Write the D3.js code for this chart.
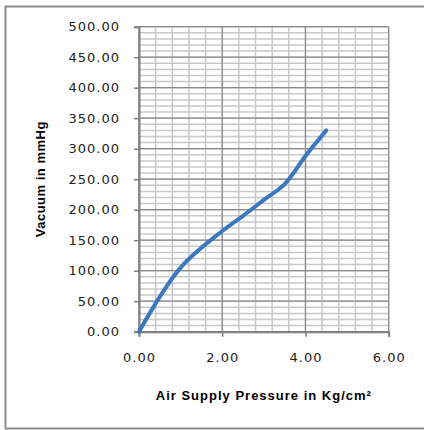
<!DOCTYPE html>
<html>
<head>
<meta charset="utf-8">
<script src="https://cdn.jsdelivr.net/npm/d3@7"></script>
<style>
  body { margin: 0; background: #fff; }
</style>
</head>
<body>
<div id="chart"></div>
<script>
// air supply pressure (kg/cm2) vs vacuum (mmHg)
var pressure = [0, 1.0, 2.0, 2.5, 3.0, 3.5, 4.0, 4.5];
var vacuum = [0, 105, 165, 190, 216, 242, 288, 330];

var xTicks = [0, 2, 4, 6];
var yTicks = [0, 50, 100, 150, 200, 250, 300, 350, 400, 450, 500];

var width = 424, height = 430;

var svg = d3.select("#chart").append("svg")
  .attr("width", width)
  .attr("height", height);

// outer frame (right side runs off the picture)
svg.append("path")
  .attr("d", "M430,6.5 H5.5 V428.5 H430")
  .attr("fill", "none")
  .attr("stroke", "#8c8c8c")
  .attr("stroke-width", 2);

var x = d3.scaleLinear().domain([0, 6]).range([139, 388.7]);
var y = d3.scaleLinear().domain([0, 500]).range([331.7, 26.7]);

// minor grid
var xMinor = d3.range(0, 6.001, 0.4);
var yMinor = d3.range(0, 500.001, 10);

svg.append("g").selectAll("line")
  .data(yMinor)
  .enter().append("line")
  .attr("x1", x(0)).attr("x2", x(6))
  .attr("y1", function(d) { return y(d); })
  .attr("y2", function(d) { return y(d); })
  .attr("stroke", "#c8c8c8")
  .attr("stroke-width", 1.5);

svg.append("g").selectAll("line")
  .data(xMinor)
  .enter().append("line")
  .attr("y1", y(0)).attr("y2", y(500))
  .attr("x1", function(d) { return x(d); })
  .attr("x2", function(d) { return x(d); })
  .attr("stroke", "#c8c8c8")
  .attr("stroke-width", 1.5);

// major grid
svg.append("g").selectAll("line")
  .data(yTicks)
  .enter().append("line")
  .attr("x1", x(0)).attr("x2", x(6))
  .attr("y1", function(d) { return y(d); })
  .attr("y2", function(d) { return y(d); })
  .attr("stroke", "#8a8a8a")
  .attr("stroke-width", 1.2);

svg.append("g").selectAll("line")
  .data(xTicks)
  .enter().append("line")
  .attr("y1", y(0)).attr("y2", y(500))
  .attr("x1", function(d) { return x(d); })
  .attr("x2", function(d) { return x(d); })
  .attr("stroke", "#8a8a8a")
  .attr("stroke-width", 1.2);

// axes
var yAxis = svg.append("g")
  .attr("transform", "translate(" + x(0) + ",0)")
  .call(d3.axisLeft(y).tickValues(yTicks).tickSize(5).tickPadding(14)
    .tickFormat(d3.format(".2f")));

var xAxis = svg.append("g")
  .attr("transform", "translate(0," + y(0) + ")")
  .call(d3.axisBottom(x).tickValues(xTicks).tickSize(5).tickPadding(16)
    .tickFormat(d3.format(".2f")));

[xAxis, yAxis].forEach(function(ax) {
  ax.select(".domain").attr("stroke", "#808080").attr("stroke-width", 2);
  ax.selectAll(".tick line").attr("stroke", "#808080").attr("stroke-width", 1.5);
  ax.selectAll("text")
    .attr("fill", "#222")
    .style("font-family", "'DejaVu Sans', sans-serif")
    .style("font-size", "13px")
    .style("letter-spacing", "1px");
});

// data line
var line = d3.line()
  .x(function(d, i) { return x(pressure[i]); })
  .y(function(d) { return y(d); })
  .curve(d3.curveCatmullRom.alpha(0.5));

svg.append("path")
  .datum(vacuum)
  .attr("d", line)
  .attr("fill", "none")
  .attr("stroke", "#3b78be")
  .attr("stroke-width", 4)
  .attr("stroke-linecap", "round");

// titles
svg.append("text")
  .attr("x", (x(0) + x(6)) / 2)
  .attr("y", 400)
  .attr("text-anchor", "middle")
  .style("font-family", "'Liberation Sans', Arial, sans-serif")
  .style("font-weight", "bold")
  .style("font-size", "13px")
  .style("letter-spacing", "1px")
  .text("Air Supply Pressure in Kg/cm²");

svg.append("text")
  .attr("transform", "translate(45," + (y(0) + y(500)) / 2 + ") rotate(-90)")
  .attr("text-anchor", "middle")
  .style("font-family", "'Liberation Sans', Arial, sans-serif")
  .style("font-weight", "bold")
  .style("font-size", "13px")
  .style("letter-spacing", "0.5px")
  .text("Vacuum in mmHg");
</script>
</body>
</html>
